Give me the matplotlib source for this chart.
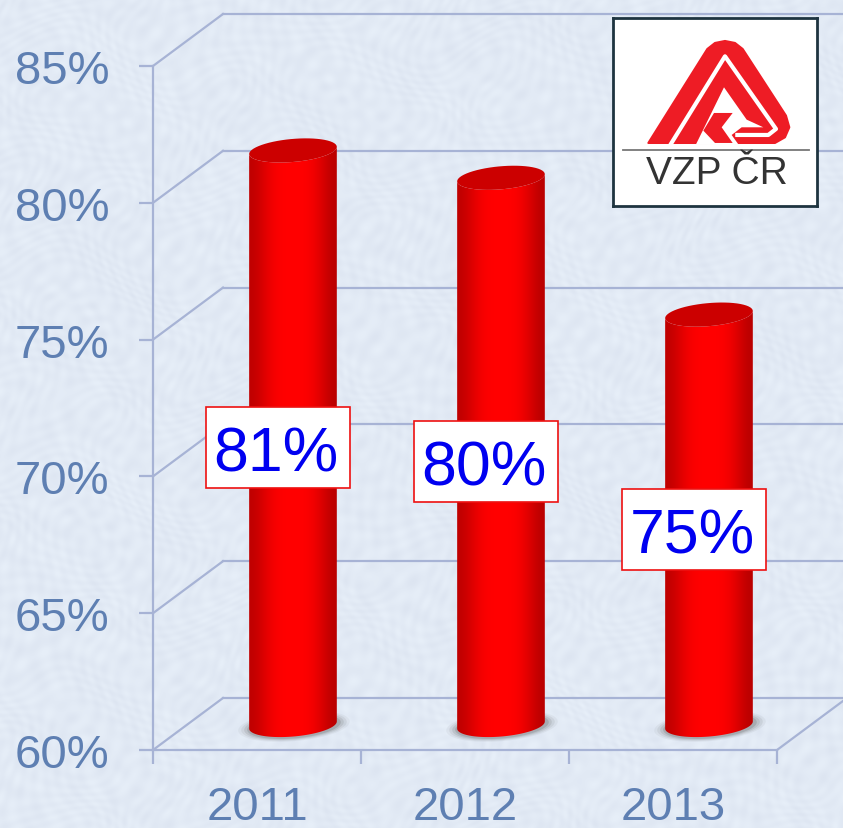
import numpy as np
import matplotlib
matplotlib.use("Agg")
import matplotlib.pyplot as plt
from matplotlib.patches import PathPatch, Polygon, Rectangle
from matplotlib.path import Path

plt.rcParams['font.family'] = ['Liberation Sans', 'DejaVu Sans']

# data
years = ['2011', '2012', '2013']
values = [81, 80, 75]
value_labels = ['81%', '80%', '75%']
y_ticks = [60, 65, 70, 75, 80, 85]
y_tick_labels = ['60%', '65%', '70%', '75%', '80%', '85%']

W, H = 843, 829
GRID = '#A7B3D5'
TICK_TEXT = '#5E7FB2'

fig = plt.figure(figsize=(W / 100, H / 100), dpi=100)

# paper background, warped sines so it looks mottled and not hatched
bg = fig.add_axes([0, 0, 1, 1], zorder=0)
yy, xx = np.mgrid[0:H, 0:W]
warp = 4 * np.sin(xx * 0.043 + 2 * np.sin(yy * 0.031)) + 4 * np.sin(yy * 0.057 + 2 * np.sin(xx * 0.027))
paper = (np.sin(xx * 0.43 + warp) + np.sin(yy * 0.39 - warp * 1.3)
         + 0.7 * np.sin((xx + yy) * 0.19 + warp * 0.7) + 0.7 * np.sin((xx - yy) * 0.13 - warp * 0.5))
paper = np.dstack([(226 + 1.5 * paper) / 255, (234 + 1.5 * paper) / 255, (245 + 1.1 * paper) / 255])
bg.imshow(paper, aspect='auto', interpolation='bilinear')
bg.axis('off')

# plot box is the front plane of the fake 3d chart
ax = fig.add_axes([153 / W, 1 - 751 / H, 624 / W, 684 / H], zorder=1)
ax.patch.set_alpha(0)
ax.set_xlim(0, 3)
ax.set_ylim(60, 85)
sx = 624 / 3      # pixels per category
sy = 684 / 25     # pixels per percent

depth_x, depth_y = 70 / sx, 52 / sy

for sp in ['top', 'right']:
    ax.spines[sp].set_visible(False)
for sp in ['left', 'bottom']:
    ax.spines[sp].set_color(GRID)
    ax.spines[sp].set_linewidth(1.6)

ax.set_yticks(y_ticks)
ax.set_yticklabels(y_tick_labels)
ax.set_xticks([0, 1, 2, 3])
ax.set_xticklabels([])
ax.set_xticks([0.5, 1.5, 2.5], minor=True)
ax.set_xticklabels(years, minor=True)
ax.tick_params(axis='y', length=10, width=1.6, color=GRID, labelcolor=TICK_TEXT, labelsize=34, pad=21.5)
ax.tick_params(axis='x', which='major', length=10, width=1.6, color=GRID)
ax.tick_params(axis='x', which='minor', length=0, labelcolor=TICK_TEXT, labelsize=34, pad=25.5)

# side wall and back wall grid lines
for t in y_ticks:
    ax.plot([0, depth_x], [t, t + depth_y], color=GRID, lw=1.6, clip_on=False, zorder=1)
    ax.plot([depth_x, 3 + depth_x], [t + depth_y, t + depth_y], color=GRID, lw=1.6, clip_on=False, zorder=1)
ax.plot([3, 3 + depth_x], [60, 60 + depth_y], color=GRID, lw=1.6, clip_on=False, zorder=1)


def ellipse_pts(cx, cy, a, b, t0, t1, tilt=np.radians(5)):
    # tilted ellipse given in pixels, returned in data units
    t = np.linspace(t0, t1, 60)
    u = a * np.cos(t) * np.cos(tilt) - b * np.sin(t) * np.sin(tilt)
    v = a * np.cos(t) * np.sin(tilt) + b * np.sin(t) * np.cos(tilt)
    return np.column_stack([cx + u / sx, cy + v / sy])


gradient = np.array([[0.50, 0.66, 0.84, 0.96, 1.0, 1.0, 1.0, 0.96, 0.84, 0.64, 0.46]])
cmap = matplotlib.colors.LinearSegmentedColormap.from_list('cyl', ['#800000', '#ff0000'])

bar_a, bar_b = 44, 11.5
bar_off_x = 0.173
bar_off_y = 25 / sy

for i, v in enumerate(values):
    cx = i + 0.5 + bar_off_x
    base = 60 + bar_off_y
    top = v + bar_off_y

    # shadow under the cylinder
    for grow, al in [(12, 0.06), (9, 0.09), (6, 0.13), (3, 0.20)]:
        pts = ellipse_pts(cx + 1 / sx, base - 1 / sy, bar_a + grow, bar_b + grow * 0.3, 0, 2 * np.pi)
        ax.add_patch(Polygon(pts, closed=True, fc='#505050', ec='none', alpha=al, clip_on=False, zorder=2))

    front = ellipse_pts(cx, base, bar_a, bar_b, np.pi, 2 * np.pi)
    back = ellipse_pts(cx, top, bar_a, bar_b, 2 * np.pi, np.pi)
    body = np.vstack([front, back, front[:1]])
    codes = [Path.MOVETO] + [Path.LINETO] * (len(body) - 2) + [Path.CLOSEPOLY]
    clip = PathPatch(Path(body, codes), transform=ax.transData, fc='none', ec='none')
    ax.add_patch(clip)
    im = ax.imshow(gradient, cmap=cmap, vmin=0, vmax=1, aspect='auto', interpolation='bicubic',
                   extent=[cx - bar_a / sx, cx + bar_a / sx, 60, 85], zorder=3, clip_on=True)
    im.set_clip_path(clip)

    lid = ellipse_pts(cx, top, bar_a, bar_b, 0, 2 * np.pi)
    ax.add_patch(Polygon(lid, closed=True, fc='#CC0000', ec='none', clip_on=False, zorder=4))

    # value box
    lx = i + 0.6
    ly = 60 + (v - 60) / 2 + 0.56
    ax.add_patch(Rectangle((lx - 72 / sx, ly - 40.5 / sy), 144 / sx, 81 / sy, fc='white', ec='#EE1111',
                           lw=1.2, clip_on=False, zorder=5))
    ax.text(lx - 1.5 / sx, ly, value_labels[i], color='#0000F0', fontsize=45, ha='center', va='center_baseline', zorder=6)

ax.set_xlim(0, 3)
ax.set_ylim(60, 85)

# logo, coordinates here are local to the logo box
logo = fig.add_axes([612.7 / W, 1 - 207.3 / H, 204.6 / W, 188 / H], zorder=2)
logo.set_xlim(38, 652)
logo.set_ylim(622, 58)
logo.set_xticks([])
logo.set_yticks([])
for sp in logo.spines.values():
    sp.set_color('#1E3440')
    sp.set_linewidth(2)

LOGO_RED = '#EE1C25'
outer = [(145, 432), (322, 150), (345, 132), (375, 126), (405, 132), (428, 150), (558, 350), (568, 385),
         (555, 415), (525, 432), (430, 432), (395, 432), (145, 432)]
logo.add_patch(Polygon(outer, closed=True, fc=LOGO_RED, ec=LOGO_RED, lw=1.5, joinstyle='round'))
logo.plot([212, 375, 528, 505, 412], [436, 172, 390, 408, 408], color='white', lw=3, solid_joinstyle='round')
hole = [(372, 265), (288, 436), (415, 436), (395, 408), (425, 385), (490, 385), (440, 362), (400, 305)]
logo.add_patch(Polygon(hole, closed=True, fc='white', ec='none'))
k_mark = [(310, 395), (342, 342), (398, 342), (365, 385), (398, 432), (345, 432)]
logo.add_patch(Polygon(k_mark, closed=True, fc=LOGO_RED, ec='none'))
logo.plot([70, 628], [453, 453], color='#777777', lw=1.3)
logo.text(352, 522, 'VZP ČR', color='#333333', fontsize=28, ha='center', va='center')

fig.savefig('out.png', dpi=100)
